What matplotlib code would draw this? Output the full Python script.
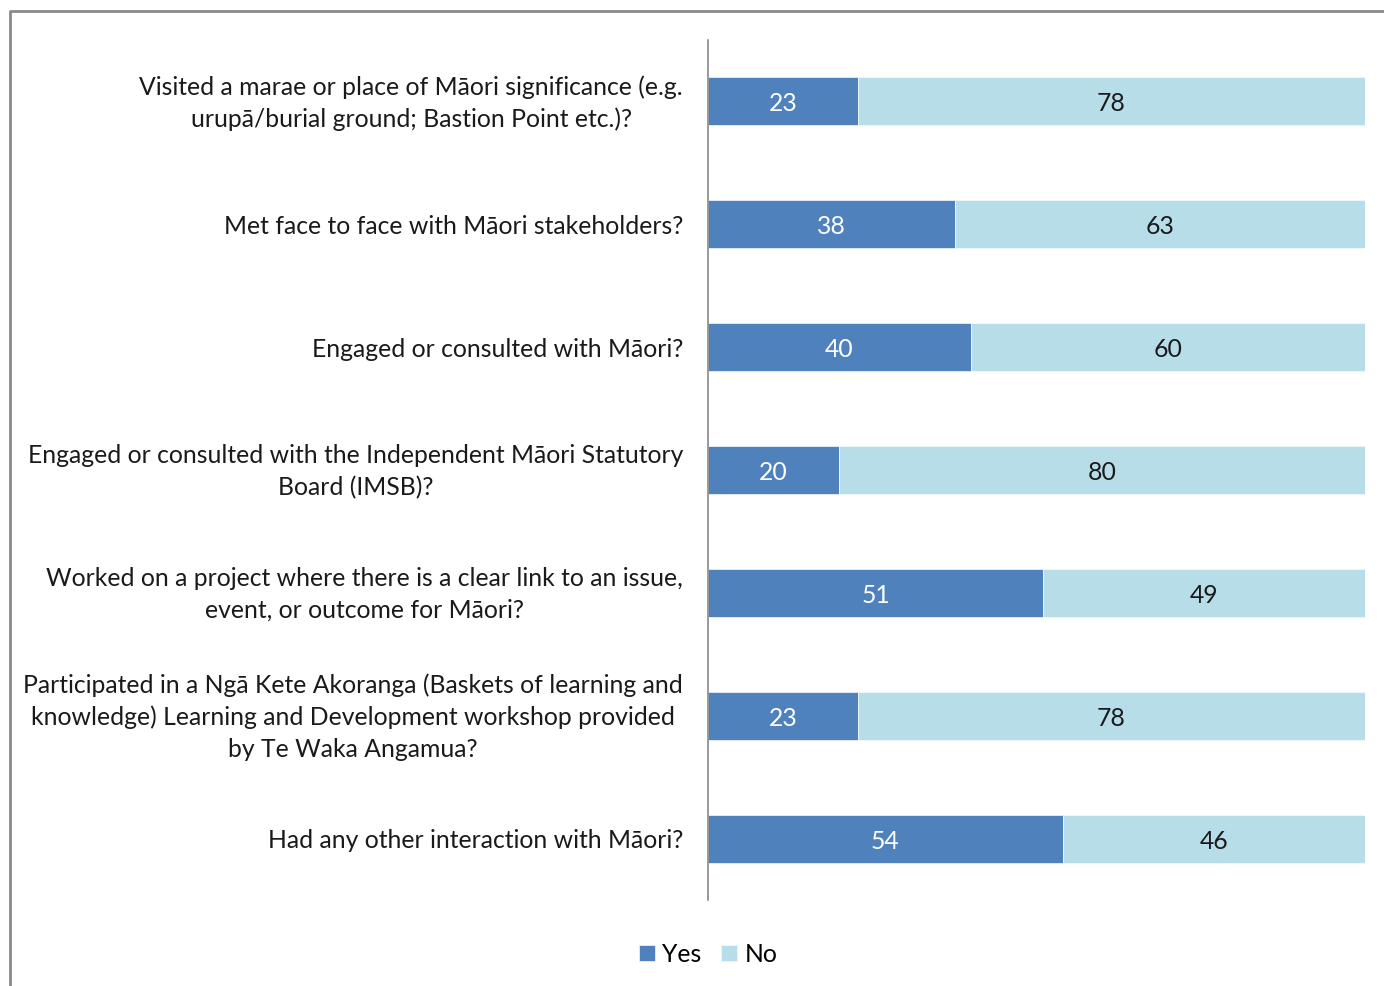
import matplotlib.pyplot as plt
import matplotlib.transforms as mtransforms
import numpy as np

plt.rcParams['font.family'] = ['Lato', 'DejaVu Sans']

questions = [
    "Visited a marae or place of Māori significance (e.g.\nurupā/burial ground; Bastion Point etc.)?",
    "Met face to face with Māori stakeholders?",
    "Engaged or consulted with Māori?",
    "Engaged or consulted with the Independent Māori Statutory\nBoard (IMSB)?",
    "Worked on a project where there is a clear link to an issue,\nevent, or outcome for Māori?",
    "Participated in a Ngā Kete Akoranga (Baskets of learning and\nknowledge) Learning and Development workshop provided\nby Te Waka Angamua?",
    "Had any other interaction with Māori?",
]
yes = np.array([23, 38, 40, 20, 51, 23, 54])
no = np.array([78, 63, 60, 80, 49, 78, 46])

# 100% stacked: each bar scaled to its own total
total = yes + no
yes_share = yes / total
no_share = no / total

fig = plt.figure(figsize=(13.84, 9.86), dpi=100)
ax = fig.add_axes([708 / 1384, 1 - 900 / 986, 657 / 1384, 860 / 986])

ypos = np.arange(len(questions))
yes_col = '#4F81BD'
no_col = '#B7DEE8'
ax.barh(ypos, yes_share, height=0.39, color=yes_col, edgecolor='#e8eef6', linewidth=0.6, label='Yes')
ax.barh(ypos, no_share, left=yes_share, height=0.39, color=no_col, edgecolor='#eef8fa', linewidth=0.6, label='No')

fs = 17.8
for i in ypos:
    ax.text(yes_share[i] / 2, i + 0.02, str(yes[i]), ha='center', va='center', color='white', fontsize=fs)
    ax.text(yes_share[i] + no_share[i] / 2, i + 0.02, str(no[i]), ha='center', va='center', color='#1a1a1a', fontsize=fs)

ax.set_xlim(0, 1)
ax.set_ylim(len(questions) - 0.5, -0.5)
ax.set_xticks([])
ax.set_yticks([])

# category labels drawn as text, right-aligned against the axis, centred lines
label_tr = mtransforms.offset_copy(ax.get_yaxis_transform(), fig=fig, x=-25, y=0, units='dots')
for i, q in zip(ypos, questions):
    nlines = q.count('\n') + 1
    shift = 0.04 if nlines > 1 else 0.0
    ax.text(0, i - shift, q, transform=label_tr, ha='right', va='center_baseline',
            multialignment='center', linespacing=1.45, fontsize=fs, color='#1a1a1a')

for side in ['top', 'right', 'bottom']:
    ax.spines[side].set_visible(False)
ax.spines['left'].set_color('#888888')
ax.spines['left'].set_linewidth(1.2)

leg = fig.legend(loc='center', bbox_to_anchor=(708 / 1384, 1 - 954 / 986), ncol=2, frameon=False,
                 fontsize=fs, handlelength=0.65, handleheight=0.65, handletextpad=0.3, columnspacing=0.8)

# chart area frame (top and left edges)
fig.add_artist(plt.Line2D([10 / 1384, 10 / 1384, 1], [0, 1 - 11 / 986, 1 - 11 / 986],
                          transform=fig.transFigure, color='#8a8a8a', linewidth=2))

fig.savefig('out.png', dpi=100)
